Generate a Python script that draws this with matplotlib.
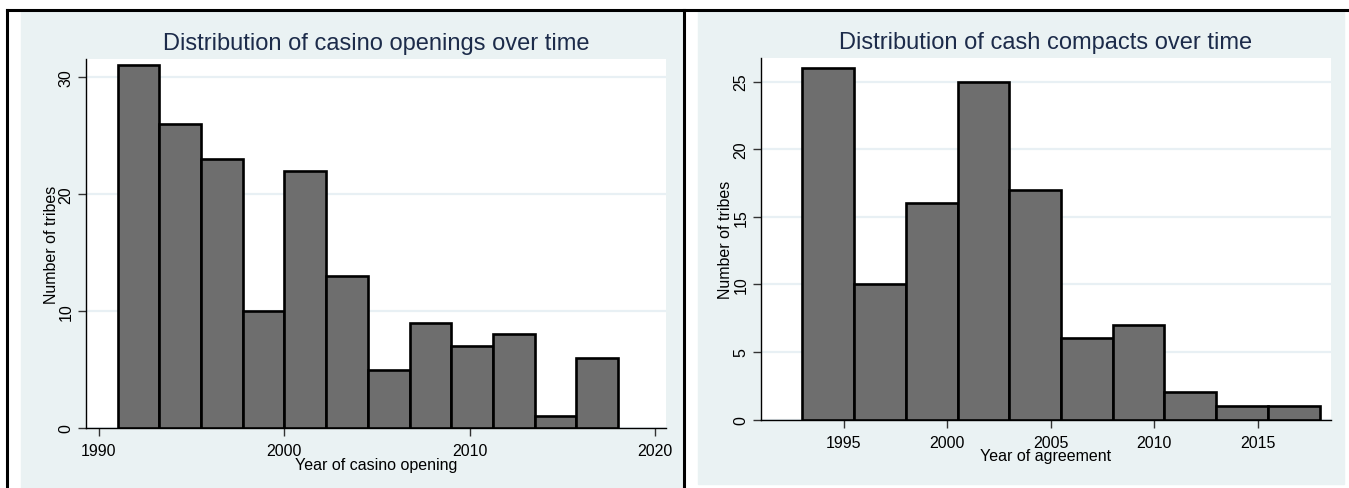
import numpy as np
import matplotlib
matplotlib.use("Agg")
import matplotlib.pyplot as plt
from matplotlib.patches import Rectangle
from matplotlib.lines import Line2D

#%% Data
casino_bin_start = 1991
casino_bin_width = 2.25
casino_counts = [31, 26, 23, 10, 22, 13, 5, 9, 7, 8, 1, 6]
casino_xticks = [1990, 2000, 2010, 2020]
casino_yticks = [0, 10, 20, 30]

compact_bin_start = 1993
compact_bin_width = 2.5
compact_counts = [26, 10, 16, 25, 17, 6, 7, 2, 1, 1]
compact_xticks = [1995, 2000, 2005, 2010, 2015]
compact_yticks = [0, 5, 10, 15, 20, 25]

#%% Style
plt.rcParams['font.family'] = ['Liberation Sans', 'DejaVu Sans']
W, H = 1349, 489
bg = '#eaf2f3'
grid_c = '#e8f0f4'
bar_c = '#6e6e6e'
title_c = '#1c2b4a'

fig = plt.figure(figsize=(W / 100, H / 100), dpi=100)


def px_axes(x0, y0, x1, y1):
    # pixel box (top-left origin) -> figure axes
    return fig.add_axes([x0 / W, 1 - y1 / H, (x1 - x0) / W, (y1 - y0) / H])


def px_rect(x0, y0, x1, y1, color):
    fig.patches.append(Rectangle((x0 / W, 1 - y1 / H), (x1 - x0) / W, (y1 - y0) / H,
                                 transform=fig.transFigure, color=color, zorder=-10))


def px_line(xs, ys, lw=2.2):
    fig.lines.append(Line2D([x / W for x in xs], [1 - y / H for y in ys],
                            transform=fig.transFigure, color='black', lw=lw, zorder=-5))


# panel backgrounds
px_rect(21, 12, 683, 489, bg)
px_rect(698, 12, 1344, 485, bg)

# table borders
px_line([7, 1349], [11, 11])
px_line([7, 7], [11, 489])
px_line([684, 684], [11, 489])


def hist_panel(ax, start, width, counts, xticks, yticks, xlim, ylim, title, xlabel):
    edges = start + width * np.arange(len(counts))
    ax.bar(edges, counts, width=width, align='edge', color=bar_c,
           edgecolor='black', linewidth=1.9, zorder=3)
    ax.set_xlim(*xlim)
    ax.set_ylim(*ylim)
    ax.set_xticks(xticks)
    ax.set_yticks(yticks)
    ax.set_yticklabels([str(v) for v in yticks], rotation=90, va='center')
    ax.grid(axis='y', color=grid_c, lw=1.6, zorder=0)
    ax.set_axisbelow(True)
    for s in ['top', 'right']:
        ax.spines[s].set_visible(False)
    for s in ['left', 'bottom']:
        ax.spines[s].set_linewidth(1.0)
    ax.tick_params(axis='both', labelsize=11.5, length=6, width=1.0,
                   color='#333333', pad=3)
    ax.tick_params(axis='x', pad=5)
    ax.set_title(title, fontsize=17, color=title_c, pad=7)
    ax.set_xlabel(xlabel, fontsize=11.5, labelpad=-1)
    ax.set_ylabel('Number of tribes', fontsize=11.5, labelpad=0)


ax1 = px_axes(86, 60, 666, 429)
hist_panel(ax1, casino_bin_start, casino_bin_width, casino_counts,
           casino_xticks, casino_yticks, (1989.3, 2020.58), (0, 31.55),
           'Distribution of casino openings over time', 'Year of casino opening')

ax2 = px_axes(761, 59, 1331, 420.5)
hist_panel(ax2, compact_bin_start, compact_bin_width, compact_counts,
           compact_xticks, compact_yticks, (1991.0, 2018.55), (0, 26.75),
           'Distribution of cash compacts over time', 'Year of agreement')

fig.savefig('out.png', dpi=100)
